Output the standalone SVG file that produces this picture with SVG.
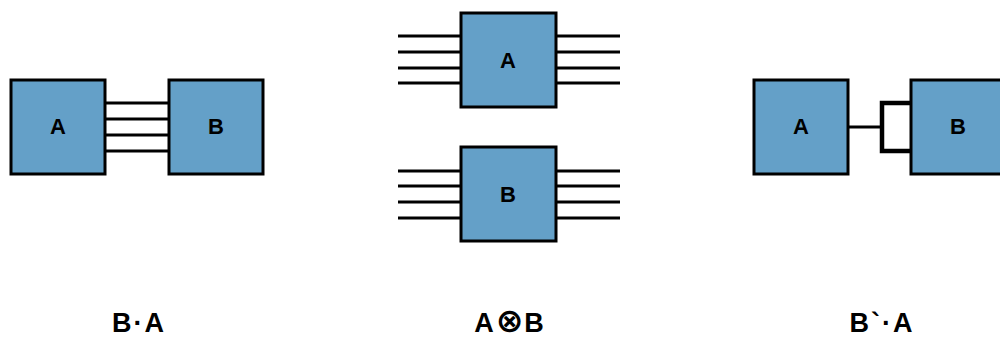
<svg xmlns="http://www.w3.org/2000/svg" width="1000" height="338" viewBox="0 0 1000 338">
<style>
.box{fill:#64a0c8;stroke:#000;stroke-width:3}
.lbl{font-family:"Liberation Sans",Arial,sans-serif;font-weight:bold;font-size:22px;text-anchor:middle;fill:#000}
.ttl{font-family:"Liberation Sans",Arial,sans-serif;font-weight:bold;font-size:27px;letter-spacing:2px;text-anchor:middle;fill:#000}
.op{font-family:"DejaVu Sans",sans-serif;font-weight:bold;font-size:33px;letter-spacing:1px}
.w{stroke:#000;stroke-width:3;fill:none}
.wt{stroke:#000;stroke-width:4.5;fill:none}
</style>
<rect width="1000" height="338" fill="#fff"/>
<g id="connectors">
<path class="w" d="M105 103H168M105 119H168M105 135H168M105 151H168"/>
<path class="w" d="M398 36H461M398 52H461M398 68H461M398 83H461M556 36H620M556 52H620M556 68H620M556 83H620"/>
<path class="w" d="M398 171H461M398 186H461M398 202H461M398 218H461M556 171H620M556 186H620M556 202H620M556 218H620"/>
<path class="w" d="M848 127H882"/>
<path class="wt" d="M911 103H882V151H911"/>
</g>
<g id="left-A"><rect class="box" x="11" y="80" width="94" height="94"/><text class="lbl" x="58" y="134">A</text></g>
<g id="left-B"><rect class="box" x="169" y="80" width="94" height="94"/><text class="lbl" x="216" y="134">B</text></g>
<g id="mid-A"><rect class="box" x="461" y="13" width="95" height="94"/><text class="lbl" x="508" y="68">A</text></g>
<g id="mid-B"><rect class="box" x="461" y="147" width="95" height="94"/><text class="lbl" x="508" y="202">B</text></g>
<g id="right-A"><rect class="box" x="754" y="80" width="94" height="94"/><text class="lbl" x="801" y="134">A</text></g>
<g id="right-B"><rect class="box" x="911" y="80" width="94" height="94"/><text class="lbl" x="958" y="134">B</text></g>
<text class="ttl" x="139" y="332">B·A</text>
<text class="ttl" x="510" y="332">A<tspan class="op">⊗</tspan>B</text>
<text class="ttl" x="882" y="332">B`·A</text>
</svg>
